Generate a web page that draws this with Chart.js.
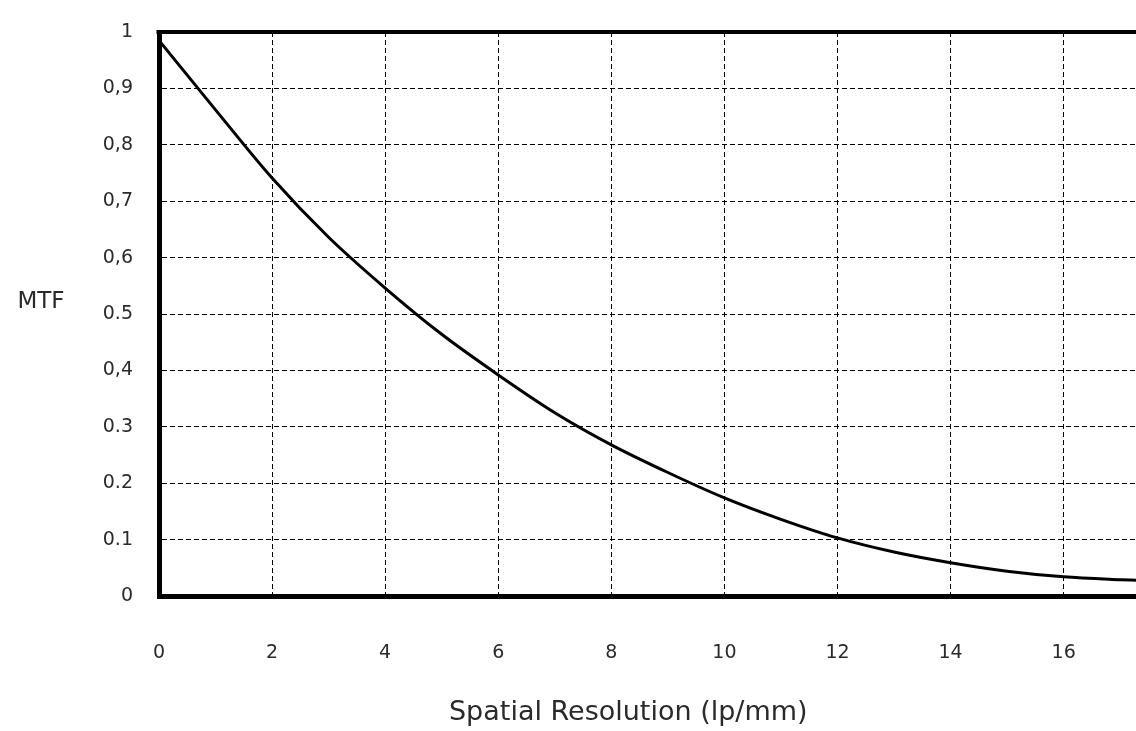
<!DOCTYPE html>
<html>
<head>
<meta charset="utf-8">
<script src="https://cdn.jsdelivr.net/npm/chart.js@4/dist/chart.umd.min.js"></script>
<style>
  html, body { margin: 0; padding: 0; background: #fff; }
  #wrap { width: 1136px; height: 731px; }
</style>
</head>
<body>
<div id="wrap"><canvas id="mtfChart"></canvas></div>
<script>
// Data
const resolution = [0, 1, 2, 3, 4, 5, 6, 7, 8, 9, 10, 11, 12, 13, 14, 15, 16, 17, 17.28];
const mtf = [0.985, 0.862, 0.741, 0.636, 0.546, 0.464, 0.392, 0.325, 0.268, 0.219, 0.174, 0.136, 0.103, 0.078, 0.059, 0.044, 0.034, 0.029, 0.028];
const yTickLabels = ['0', '0.1', '0.2', '0.3', '0,4', '0.5', '0,6', '0,7', '0,8', '0,9', '1'];
const xTickLabels = ['0', '2', '4', '6', '8', '10', '12', '14', '16'];

const textColor = '#2a2a2a';
const fontFamily = '"DejaVu Sans", sans-serif';

// top frame line + the two axis labels (horizontal MTF, x title)
const framePlugin = {
    id: 'framePlugin',
    afterDraw(chart) {
        const { ctx, chartArea } = chart;
        ctx.save();
        ctx.strokeStyle = '#000';
        ctx.lineWidth = 4;
        ctx.beginPath();
        ctx.moveTo(chartArea.left - 2.5, chartArea.top);
        ctx.lineTo(chart.width, chartArea.top);
        ctx.stroke();

        ctx.fillStyle = textColor;
        ctx.textAlign = 'center';
        ctx.textBaseline = 'middle';
        ctx.font = '23px ' + fontFamily;
        ctx.fillText('MTF', 41, chart.scales.y.getPixelForValue(0.5) - 12);
        ctx.font = '27px ' + fontFamily;
        ctx.fillText('Spatial Resolution (lp/mm)', chart.scales.x.getPixelForValue(8.3), 713);
        ctx.restore();
    }
};

const ctx = document.getElementById('mtfChart').getContext('2d');
const mtfChart = new Chart(ctx, {
    type: 'line',
    data: {
        datasets: [{
            label: 'MTF',
            data: resolution.map((x, i) => ({ x: x, y: mtf[i] })),
            borderColor: '#000',
            borderWidth: 3,
            pointRadius: 0,
            fill: false,
            cubicInterpolationMode: 'monotone'
        }]
    },
    options: {
        responsive: true,
        maintainAspectRatio: false,
        animation: false,
        layout: { autoPadding: false, padding: { top: 32, left: 0, right: 0, bottom: 0 } },
        plugins: {
            legend: { display: false },
            tooltip: { enabled: false }
        },
        scales: {
            x: {
                type: 'linear',
                min: 0,
                max: 17.28,
                afterFit(scale) { scale.height = 135; },
                ticks: {
                    stepSize: 2,
                    includeBounds: false,
                    padding: 46,
                    maxRotation: 0,
                    color: textColor,
                    font: { family: fontFamily, size: 19 },
                    callback: (value) => xTickLabels[Math.round(value / 2)]
                },
                grid: {
                    color: '#000',
                    lineWidth: 1,
                    drawTicks: false
                },
                border: { display: true, color: '#000', width: 5, dash: [5, 3] }
            },
            y: {
                min: 0,
                max: 1,
                afterFit(scale) {
                    scale.width = 159;
                    scale.paddingTop = 0;
                    scale.paddingBottom = 0;
                },
                ticks: {
                    stepSize: 0.1,
                    padding: 26,
                    color: textColor,
                    font: { family: fontFamily, size: 19 },
                    callback: (value) => yTickLabels[Math.round(value * 10)]
                },
                grid: {
                    color: '#000',
                    lineWidth: 1,
                    drawTicks: false
                },
                border: { display: true, color: '#000', width: 5, dash: [5, 3] }
            }
        }
    },
    plugins: [framePlugin]
});
</script>
</body>
</html>
